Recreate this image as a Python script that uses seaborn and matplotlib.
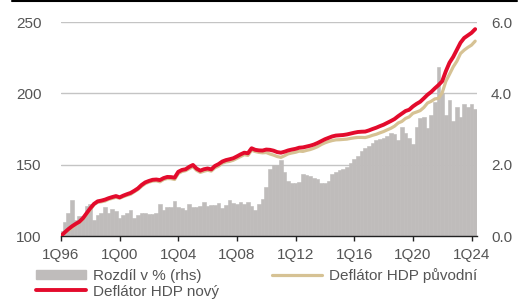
import matplotlib
matplotlib.use('Agg')
import pandas as pd
import matplotlib.pyplot as plt
import seaborn as sns
from matplotlib.lines import Line2D
from matplotlib.patches import Patch

# DATA - ctvrtletni rady 1Q96 .. 2Q24
rozdil = [0.15, 0.40, 0.65, 1.00, 0.45, 0.55, 0.55, 0.85, 0.90, 0.45,
          0.60, 0.65, 0.80, 0.65, 0.75, 0.70, 0.50, 0.58, 0.65, 0.72,
          0.50, 0.58, 0.65, 0.65, 0.62, 0.62, 0.65, 0.90, 0.72, 0.80,
          0.82, 0.97, 0.82, 0.78, 0.72, 0.90, 0.80, 0.82, 0.83, 0.96,
          0.84, 0.86, 0.88, 0.93, 0.78, 0.88, 1.00, 0.93, 0.90, 0.95,
          0.90, 0.95, 0.85, 0.74, 0.90, 1.03, 1.36, 1.87, 1.99, 2.00,
          2.13, 1.80, 1.55, 1.50, 1.50, 1.52, 1.73, 1.70, 1.68, 1.63,
          1.60, 1.48, 1.50, 1.55, 1.73, 1.80, 1.84, 1.88, 1.94, 2.05,
          2.15, 2.25, 2.38, 2.48, 2.52, 2.60, 2.68, 2.72, 2.76, 2.80,
          2.88, 2.85, 2.70, 3.05, 2.88, 2.75, 2.58, 3.05, 3.30, 3.35,
          3.02, 3.40, 3.75, 4.75, 4.02, 3.40, 3.82, 3.22, 3.62, 3.35,
          3.70, 3.62, 3.70, 3.55]

deflator_novy = [100.0, 102.5, 104.8, 106.8, 108.5, 110.0, 112.5, 116.0, 119.5, 122.5,
                 124.3, 124.8, 125.5, 126.5, 127.3, 128.0, 127.1, 128.3, 129.3, 130.2,
                 131.7, 133.4, 135.8, 137.6, 138.6, 139.4, 139.6, 139.2, 140.6, 141.4,
                 141.3, 140.9, 145.0, 146.3, 146.8, 148.5, 149.8, 147.2, 145.8, 146.8,
                 147.3, 146.7, 149.1, 150.4, 152.2, 153.2, 153.8, 154.5, 155.8, 157.2,
                 158.4, 158.0, 161.5, 160.4, 160.0, 159.9, 160.6, 160.4, 159.8, 158.8,
                 158.4, 159.1, 160.0, 160.6, 161.1, 161.9, 162.1, 162.7, 163.3, 164.1,
                 165.2, 166.5, 167.8, 168.8, 169.8, 170.4, 170.6, 170.8, 171.2, 171.8,
                 172.4, 172.9, 173.1, 173.2, 174.0, 175.0, 175.9, 177.0, 178.0, 179.3,
                 180.6, 182.0, 184.0, 185.8, 187.6, 188.5, 190.8, 192.6, 194.1, 196.5,
                 199.0, 201.0, 203.5, 205.8, 208.5, 215.5, 221.5, 225.5, 230.5, 235.5,
                 238.8, 240.6, 242.4, 245.0]

deflator_puvodni = [99.9, 102.1, 104.1, 105.7, 108.0, 109.4, 111.9, 115.0, 118.4, 122.0,
                    123.6, 124.0, 124.5, 125.7, 126.4, 127.1, 126.5, 127.6, 128.5, 129.3,
                    131.0, 132.6, 134.9, 136.7, 137.8, 138.5, 138.7, 138.0, 139.6, 140.3,
                    140.2, 139.6, 143.8, 145.2, 145.8, 147.2, 148.6, 146.0, 144.6, 145.4,
                    146.1, 145.5, 147.8, 149.0, 151.0, 151.9, 152.3, 153.1, 154.4, 155.7,
                    157.0, 156.5, 160.1, 159.2, 158.6, 158.3, 158.5, 157.5, 156.7, 155.7,
                    155.1, 156.3, 157.6, 158.2, 158.7, 159.5, 159.3, 160.0, 160.6, 161.5,
                    162.6, 164.1, 165.3, 166.2, 166.9, 167.4, 167.5, 167.7, 167.9, 168.4,
                    168.8, 169.1, 169.1, 169.0, 169.7, 170.6, 171.3, 172.3, 173.2, 174.4,
                    175.5, 177.0, 179.2, 180.3, 182.4, 183.5, 186.0, 186.9, 187.9, 190.1,
                    193.2, 194.4, 196.1, 196.5, 200.4, 208.4, 213.4, 218.5, 222.5, 227.9,
                    230.3, 232.2, 233.8, 236.6]

tick_labels = ['1Q96', '1Q00', '1Q04', '1Q08', '1Q12', '1Q16', '1Q20', '1Q24']

df = pd.DataFrame({'q': range(len(rozdil)), 'rozdil': rozdil,
                   'novy': deflator_novy, 'puvodni': deflator_puvodni})

sns.set_style('white')
plt.rcParams['font.family'] = ['Liberation Sans', 'DejaVu Sans']

c_bar = '#bfbcbb'
c_novy = '#e30b2c'
c_puv = '#d6c294'
c_txt = '#555555'

fig = plt.figure(figsize=(5.28, 3.02), dpi=100)
ax = fig.add_axes([61/528, 66/302, 416/528, 214/302])
ax2 = ax.twinx()

# Sloupce (prava osa)
sns.barplot(data=df, x='q', y='rozdil', native_scale=True, width=1, color=c_bar,
            saturation=1, edgecolor=c_bar, linewidth=0.4, errorbar=None, ax=ax)
ax.set_ylim(0, 6)
ax.set_yticks([0, 2, 4, 6])
ax.set_yticklabels(['0.0', '2.0', '4.0', '6.0'])
ax.grid(axis='y', color='#c4c4c4', lw=1)
ax.set_axisbelow(True)
ax.set_xlim(0, len(rozdil) - 0.5)
ax.set_xticks(range(0, len(rozdil), 16))
ax.set_xticklabels(tick_labels)
ax.set_xlabel('')
ax.set_ylabel('')
for s in ['left', 'right', 'top']:
    ax.spines[s].set_visible(False)
ax.spines['bottom'].set_color('#222222')
ax.spines['bottom'].set_linewidth(1)
ax.tick_params(axis='x', length=3.5, width=1, color='#222222', pad=5,
               labelsize=11, labelcolor=c_txt, bottom=True)

# Linie (leva osa)
sns.lineplot(data=df, x='q', y='puvodni', color=c_puv, lw=2.3, ax=ax2)
sns.lineplot(data=df, x='q', y='novy', color=c_novy, lw=2.8, ax=ax2)
ax2.set_ylim(100, 250)
ax2.set_yticks([100, 150, 200, 250])
ax2.set_ylabel('')
ax2.set_xlabel('')
for s in ['left', 'right', 'top', 'bottom']:
    ax2.spines[s].set_visible(False)
ax2.set_xlim(0, len(rozdil) - 0.5)

# osy prohodit: procenta vpravo, index vlevo
ax.yaxis.tick_right()
ax2.yaxis.tick_left()
ax.tick_params(axis='y', length=0, pad=10, labelsize=11, labelcolor=c_txt)
ax2.tick_params(axis='y', length=0, pad=14, labelsize=11, labelcolor=c_txt)

# Legenda
handles = [Patch(color=c_bar), Line2D([], [], color=c_novy, lw=2.8),
           Line2D([], [], color=c_puv, lw=2.3)]
labels = ['Rozdíl v % (rhs)', 'Deflátor HDP nový', 'Deflátor HDP původní']
fig.legend(handles, labels, loc='upper left', bbox_to_anchor=(36/528, 1 - 268/302),
           ncol=2, frameon=False, fontsize=11, labelcolor=c_txt, borderpad=0,
           handlelength=3.3, handleheight=0.6, handletextpad=0.4,
           columnspacing=3.5, labelspacing=0.1, borderaxespad=0)

# Horni cara
fig.add_artist(Line2D([12/528, 517/528], [1 - 1/302, 1 - 1/302], color='black', lw=1.5))

fig.savefig('out.png', dpi=100)
